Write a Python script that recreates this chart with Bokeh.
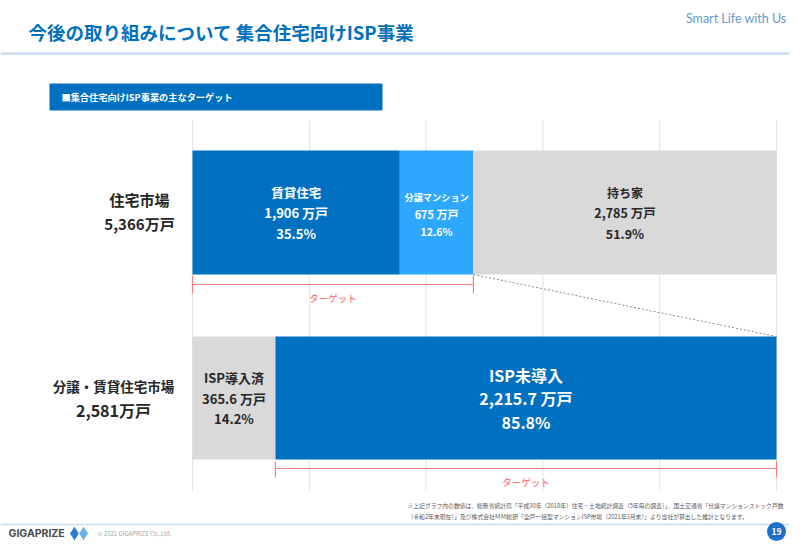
from bokeh.plotting import figure
from bokeh.models import Range1d
from bokeh.core.properties import value
from bokeh.embed import file_html
from bokeh.resources import INLINE

# ---------------- data ----------------
TITLE = "今後の取り組みについて  集合住宅向けISP事業"
SLOGAN = "Smart Life with Us"
SECTION = "■集合住宅向けISP事業の主なターゲット"
markets = ["住宅市場", "分譲・賃貸住宅市場"]
housing_names = ["賃貸住宅", "分譲マンション", "持ち家"]
housing_values = [1906, 675, 2785]
housing_pct = [35.5, 12.6, 51.9]
isp_names = ["ISP導入済", "ISP未導入"]
isp_values = [365.6, 2215.7]
isp_pct = [14.2, 85.8]
UNIT = "万戸"
TARGET = "ターゲット"
grid_ticks = [0, 20, 40, 60, 80, 100]
footnote = [
    "※上記グラフ内の数値は、総務省統計局「平成30年（2018年）住宅・土地統計調査（5年毎の調査）」、国土交通省「分譲マンションストック戸数",
    "（令和2年末現在）」及び株式会社ＭＭ総研「全戸一括型マンションISP市場（2021年3月末）」より当社が算出した推計となります。",
]
BRAND = "GIGAPRIZE"
COPYRIGHT = "© 2021 GIGAPRIZE Co.,Ltd."
PAGE_NO = "19"

# ---------------- layout / style ----------------
W, H = 789, 541
X0_PX, X100_PX = 192.0, 776.0
SCALE = (X100_PX - X0_PX) / 100.0


def px(xpage):
    return (xpage - X0_PX) / SCALE


FONT = value("Noto Sans CJK JP")
DARK = "#262626"
BLUE = "#0070C0"
LIGHT_BLUE = "#2EA8FF"
GRAY = "#D9D9D9"
RED = "#FF7C80"

p = figure(width=W, height=H, output_backend="svg", toolbar_location=None,
           x_range=Range1d(px(0), px(W)), y_range=Range1d(H, 0),
           x_axis_type=None, y_axis_type=None, min_border=0,
           outline_line_color=None, background_fill_color="white",
           border_fill_color="white")
p.grid.visible = False

# header
p.text(x=[px(28)], y=[31], text=[TITLE], text_font=FONT, text_font_style="bold",
       text_font_size="18.5px", text_color=BLUE, text_baseline="middle")
p.text(x=[px(786)], y=[18], text=[SLOGAN], text_font=value("Lato"),
       text_font_size="12.5px", text_color="#6A98CC", text_baseline="middle",
       text_align="right")
p.segment(x0=[px(0)], x1=[px(805)], y0=[53], y1=[53], line_color="#C9DDF0", line_width=2.5)

# section box
p.quad(left=[px(49)], right=[px(382)], top=[83], bottom=[110], fill_color=BLUE, line_color=None)
p.text(x=[px(61)], y=[96.5], text=[SECTION], text_font=FONT, text_font_style="bold",
       text_font_size="9.2px", text_color="white", text_baseline="middle")

# grid lines
p.segment(x0=grid_ticks, x1=grid_ticks, y0=[120] * len(grid_ticks), y1=[490] * len(grid_ticks),
          line_color="#E2E2E2", line_width=1)

ROW_Y = [212, 397.5]
ROW_H = [124, 123]


def cum(pcts):
    lefts, acc = [], 0.0
    for v in pcts:
        lefts.append(acc)
        acc += v
    return lefts, [l + v for l, v in zip(lefts, pcts)]


def fmt(v):
    return f"{v:,}" if isinstance(v, int) else f"{v:,.1f}"


rows = [
    dict(names=housing_names, vals=housing_values, pct=housing_pct,
         colors=[BLUE, LIGHT_BLUE, GRAY], tcolors=["white", "white", DARK],
         sizes=[(12.5, 13, 13), (9.2, 11, 10.5), (12, 12.5, 12.5)],
         offs=[(-20, 0, 21), (-16, 1, 19), (-20, 0, 21)]),
    dict(names=isp_names, vals=isp_values, pct=isp_pct,
         colors=[GRAY, BLUE], tcolors=[DARK, "white"],
         sizes=[(13, 13, 13), (16, 16, 16)],
         offs=[(-21, 0, 20), (-23, 0, 24)]),
]

for r, row in enumerate(rows):
    lefts, rights = cum(row["pct"])
    yc = ROW_Y[r]
    p.hbar(y=[yc] * len(lefts), left=lefts, right=rights, height=ROW_H[r],
           fill_color=row["colors"], line_color=None)
    for i in range(len(lefts)):
        mid = (lefts[i] + rights[i]) / 2
        lines = [row["names"][i], f"{fmt(row['vals'][i])} {UNIT}", f"{row['pct'][i]:.1f}%"]
        for k in range(3):
            p.text(x=[mid], y=[yc + row["offs"][i][k]], text=[lines[k]], text_font=FONT,
                   text_font_style="bold", text_font_size=f"{row['sizes'][i][k]}px",
                   text_color=row["tcolors"][i], text_align="center", text_baseline="middle")

# market labels
totals = [sum(housing_values), sum(isp_values)]
LABEL_X = [139, 113]
LABEL_Y = [(199, 223), (385, 409)]
LABEL_SIZE = [(15, 15), (13.5, 16)]
for r in range(2):
    for k, t in enumerate([markets[r], f"{totals[r]:,.0f}{UNIT}"]):
        p.text(x=[px(LABEL_X[r])], y=[LABEL_Y[r][k]], text=[t], text_font=FONT,
               text_font_style="bold", text_font_size=f"{LABEL_SIZE[r][k]}px",
               text_color=DARK, text_align="center", text_baseline="middle")

# target brackets
h_l, h_r = cum(housing_pct)
i_l, i_r = cum(isp_pct)
brackets = [(h_l[0], h_r[1], 284, 275, 293, 297), (i_l[1], i_r[1], 468, 461, 477, 481)]
for x0, x1, yl, yt, yb, ytxt in brackets:
    p.segment(x0=[x0, x0, x1], x1=[x1, x0, x1], y0=[yl, yt, yt], y1=[yl, yb, yb],
              line_color=RED, line_width=1.2)
    p.text(x=[(x0 + x1) / 2], y=[ytxt], text=[TARGET], text_font=FONT,
           text_font_size="9.5px", text_color="#FF5B5B", text_align="center",
           text_baseline="middle")

# dashed connector
p.segment(x0=[h_r[1]], y0=[ROW_Y[0] + ROW_H[0] / 2], x1=[i_r[1]], y1=[ROW_Y[1] - ROW_H[1] / 2],
          line_color="#8C8C8C", line_dash="2 2", line_width=1)

# footnote
for k, t in enumerate(footnote):
    p.text(x=[px(407)], y=[505 + 11 * k], text=[t], text_font=FONT, text_font_size="5.8px",
           text_color="#595959", text_baseline="middle")

# footer (compressed to fit the page height)
p.segment(x0=[px(0)], x1=[px(805)], y0=[524], y1=[524], line_color="#C9DDF0", line_width=1.5)
p.text(x=[px(8)], y=[533], text=[BRAND], text_font=value("Inter"), text_font_style="bold",
       text_font_size="10.5px", text_color="#4A4A4A", text_baseline="middle")
p.scatter(x=[px(74), px(83)], y=[533, 533], marker="diamond", size=[15, 15],
          fill_color=["#2F7FD0", "#6CB2EA"], line_color="white", line_width=1)
p.text(x=[px(97)], y=[533], text=[COPYRIGHT], text_font=FONT, text_font_size="6px",
       text_color="#A6A6A6", text_baseline="middle")
p.scatter(x=[px(776)], y=[531], marker="circle", size=[19], fill_color="#1F6FC8", line_color=None)
p.text(x=[px(776)], y=[531], text=[PAGE_NO], text_font=FONT, text_font_style="bold",
       text_font_size="8.5px", text_color="white", text_align="center", text_baseline="middle")

open("out.html", "w").write(file_html(p, INLINE))
